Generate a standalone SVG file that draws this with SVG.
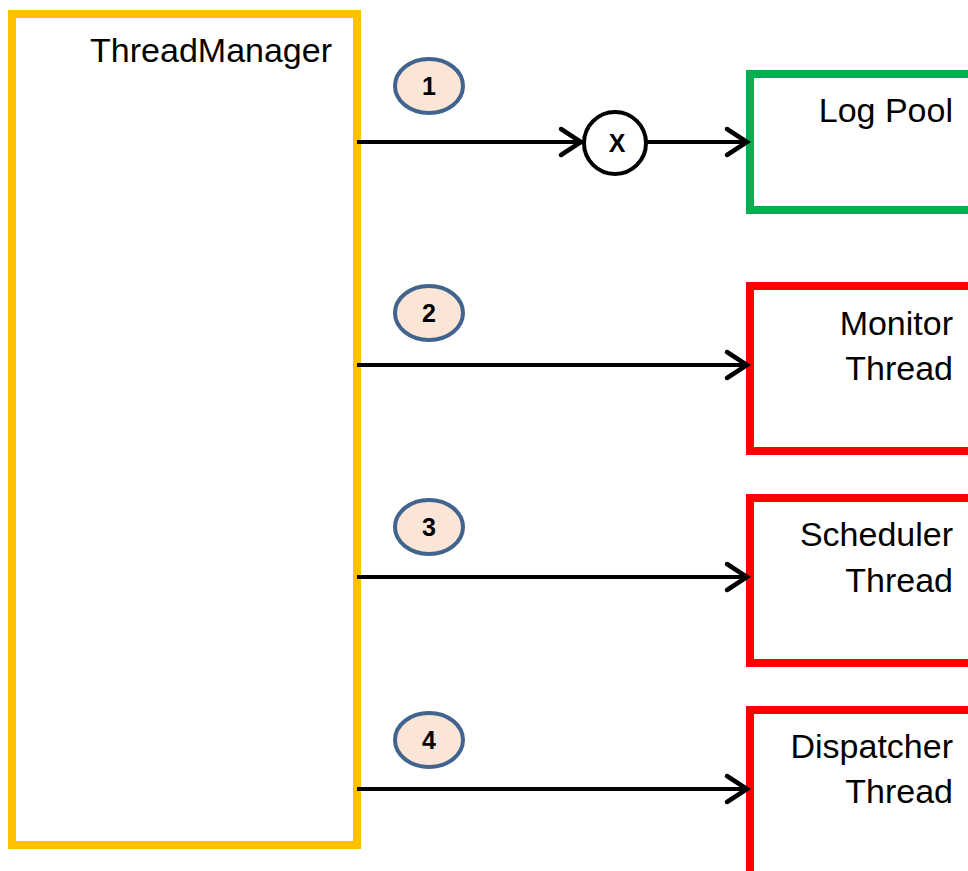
<svg xmlns="http://www.w3.org/2000/svg" width="968" height="871" viewBox="0 0 968 871">
  <style>
    .box { fill: #ffffff; stroke-width: 8; }
    .manager { stroke: #FFC000; }
    .pool { stroke: #00B050; }
    .thread { stroke: #FF0000; }
    .label { font-family: "Liberation Sans", Arial, sans-serif; font-size: 34px; fill: #000000; text-anchor: end; }
    .badge ellipse { fill: #FBE5D6; stroke: #41648F; stroke-width: 4; }
    .badge text { font-family: "Liberation Sans", Arial, sans-serif; font-weight: bold; font-size: 25px; fill: #000000; text-anchor: middle; }
    .link { stroke: #000000; stroke-width: 4; fill: none; }
    .gate circle { fill: #ffffff; stroke: #000000; stroke-width: 4; }
    .gate text { font-family: "Liberation Sans", Arial, sans-serif; font-weight: bold; font-size: 25px; fill: #000000; text-anchor: middle; }
  </style>
  <defs>
    <marker id="chevron" markerUnits="userSpaceOnUse" markerWidth="30" markerHeight="34" viewBox="-24 -17 30 34" refX="0" refY="0" orient="auto">
      <path d="M -20 -13 L 0 0 L -20 13" fill="none" stroke="#000000" stroke-width="4.5" stroke-linecap="round" stroke-linejoin="miter"/>
    </marker>
  </defs>

  <rect width="968" height="871" fill="#ffffff"/>

  <!-- manager -->
  <g id="thread-manager">
    <rect class="box manager" x="12" y="14" width="345" height="831"/>
    <text class="label" x="332" y="62">ThreadManager</text>
  </g>

  <!-- targets -->
  <g id="log-pool">
    <rect class="box pool" x="750" y="74" width="240" height="136"/>
    <text class="label" x="953" y="122">Log Pool</text>
  </g>
  <g id="monitor-thread">
    <rect class="box thread" x="750" y="286" width="240" height="165"/>
    <text class="label" x="953" y="335">Monitor</text>
    <text class="label" x="953" y="380">Thread</text>
  </g>
  <g id="scheduler-thread">
    <rect class="box thread" x="750" y="498" width="240" height="165"/>
    <text class="label" x="953" y="546">Scheduler</text>
    <text class="label" x="953" y="592">Thread</text>
  </g>
  <g id="dispatcher-thread">
    <rect class="box thread" x="750" y="710" width="240" height="200"/>
    <text class="label" x="953" y="758">Dispatcher</text>
    <text class="label" x="953" y="803">Thread</text>
  </g>

  <!-- blocked junction on the log pool path -->
  <g id="gate">
    <g class="gate">
      <circle cx="615" cy="143" r="31"/>
      <text x="617" y="152">X</text>
    </g>
  </g>

  <!-- step badges -->
  <g id="badge-1" class="badge">
    <ellipse cx="429" cy="86" rx="34" ry="27"/>
    <text x="429" y="95">1</text>
  </g>
  <g id="badge-2" class="badge">
    <ellipse cx="429" cy="313" rx="34" ry="27"/>
    <text x="429" y="322">2</text>
  </g>
  <g id="badge-3" class="badge">
    <ellipse cx="429" cy="527" rx="34" ry="27"/>
    <text x="429" y="536">3</text>
  </g>
  <g id="badge-4" class="badge">
    <ellipse cx="429" cy="740" rx="34" ry="27"/>
    <text x="429" y="749">4</text>
  </g>

  <!-- connectors -->
  <g id="connectors">
    <line class="link" x1="357" y1="142" x2="581" y2="142" marker-end="url(#chevron)"/>
    <line class="link" x1="646" y1="142" x2="747" y2="142" marker-end="url(#chevron)"/>
    <line class="link" x1="357" y1="365" x2="747" y2="365" marker-end="url(#chevron)"/>
    <line class="link" x1="357" y1="577" x2="747" y2="577" marker-end="url(#chevron)"/>
    <line class="link" x1="357" y1="789" x2="747" y2="789" marker-end="url(#chevron)"/>
  </g>
</svg>
